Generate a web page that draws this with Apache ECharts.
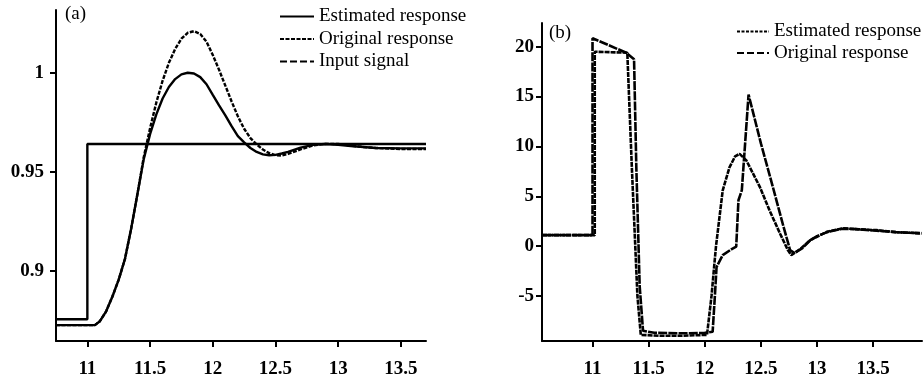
<!DOCTYPE html>
<html>
<head>
<meta charset="utf-8">
<script src="https://cdn.jsdelivr.net/npm/echarts@6/dist/echarts.min.js"></script>
<style>
html,body{margin:0;padding:0;background:#fff;}
#c{width:923px;height:381px;}
</style>
</head>
<body>
<div id="c"></div>
<script>
// ---------- Panel (a) data ----------
const aX = [10.75, 11.0, 11.06, 11.1, 11.15, 11.2, 11.25, 11.3, 11.35, 11.4, 11.45, 11.5, 11.55, 11.6, 11.65, 11.7, 11.75, 11.8, 11.85, 11.9, 11.95, 12.0, 12.05, 12.1, 12.15, 12.2, 12.25, 12.3, 12.35, 12.4, 12.45, 12.5, 12.55, 12.6, 12.7, 12.8, 12.9, 13.0, 13.1, 13.2, 13.3, 13.5, 13.7];
const aEstimated = [0.8725, 0.8725, 0.8725, 0.8745, 0.8795, 0.887, 0.8955, 0.906, 0.9215, 0.939, 0.9565, 0.969, 0.979, 0.987, 0.9928, 0.9968, 0.9992, 1.000, 0.9996, 0.9978, 0.9942, 0.9888, 0.9835, 0.9785, 0.973, 0.968, 0.9648, 0.962, 0.960, 0.9588, 0.9583, 0.9585, 0.9592, 0.960, 0.9622, 0.9636, 0.964, 0.9636, 0.963, 0.9625, 0.962, 0.9618, 0.9618];
const aOriginal = [0.8725, 0.8725, 0.8725, 0.8745, 0.8795, 0.887, 0.8955, 0.906, 0.9215, 0.939, 0.9575, 0.972, 0.985, 0.996, 1.005, 1.012, 1.0172, 1.0202, 1.021, 1.0196, 1.0157, 1.009, 1.0015, 0.9935, 0.9855, 0.978, 0.9717, 0.967, 0.9638, 0.9612, 0.9594, 0.9584, 0.9582, 0.959, 0.9613, 0.9633, 0.9641, 0.964, 0.9632, 0.9625, 0.962, 0.9615, 0.9615];
const aInputX = [10.75, 11.0, 11.0, 13.7];
const aInputY = [0.8755, 0.8755, 0.964, 0.964];
const aXTicks = [11, 11.5, 12, 12.5, 13, 13.5];
const aYTicks = [0.9, 0.95, 1];

// ---------- Panel (b) data ----------
const bEstX = [10.55, 11.02, 11.02, 11.31, 11.35, 11.40, 11.43, 11.6, 11.8, 12.02, 12.06, 12.1, 12.16, 12.22, 12.27, 12.31, 12.37, 12.49, 12.58, 12.67, 12.74, 12.77, 12.85, 12.94, 13.09, 13.23, 13.35, 13.53, 13.7, 13.93];
const bEstY = [1.1, 1.1, 19.5, 19.4, 8, -5, -8.9, -9.0, -9.0, -8.9, -5, 0, 5.6, 7.9, 9.0, 9.25, 8.6, 5.95, 3.5, 1.27, -0.4, -0.9, -0.3, 0.6, 1.44, 1.78, 1.7, 1.6, 1.4, 1.27];
const bOrigX = [10.55, 11.0, 11.0, 11.3, 11.37, 11.39, 11.42, 11.45, 11.55, 11.8, 12.0, 12.07, 12.09, 12.105, 12.16, 12.24, 12.28, 12.3, 12.33, 12.39, 12.5, 12.6, 12.7, 12.76, 12.8, 12.87, 12.94, 13.0, 13.09, 13.23, 13.35, 13.53, 13.7, 13.93];
const bOrigY = [1.1, 1.1, 20.85, 19.4, 18.75, 8, -4, -8.5, -8.7, -8.75, -8.7, -8.6, -5, -2.1, -0.9, -0.3, -0.05, 4.6, 5.6, 15.2, 10.3, 6.2, 2.0, -0.4, -0.7, -0.2, 0.6, 1.0, 1.4, 1.75, 1.7, 1.55, 1.4, 1.3];
const bXTicks = [11, 11.5, 12, 12.5, 13, 13.5];
const bYTicks = [-5, 0, 5, 10, 15, 20];

const zip = (xs, ys) => xs.map((x, i) => [x, ys[i]]);

const FONT = 'Liberation Serif';
const tickLabel = { color: '#000', fontFamily: FONT, fontSize: 19, fontWeight: 'bold' };
const axLine = { show: true, onZero: false, lineStyle: { color: '#000', width: 2 } };
const axTick = { show: true, length: 6, lineStyle: { color: '#000', width: 2 } };
const legendText = { color: '#000', fontFamily: FONT, fontSize: 19, lineHeight: 19 };

const chart = echarts.init(document.getElementById('c'), null, { renderer: 'canvas' });
chart.setOption({
  animation: false,
  backgroundColor: '#fff',
  grid: [
    { left: 56, top: 10, width: 370, height: 331 },
    { left: 542, top: 23, width: 380, height: 318 }
  ],
  xAxis: [
    { type: 'value', gridIndex: 0, min: 10.75, max: 13.7, axisLine: axLine,
      axisTick: Object.assign({}, axTick, { customValues: aXTicks }),
      axisLabel: Object.assign({}, tickLabel, { margin: 19, customValues: aXTicks }),
      splitLine: { show: false } },
    { type: 'value', gridIndex: 1, min: 10.55, max: 13.935, axisLine: axLine,
      axisTick: Object.assign({}, axTick, { customValues: bXTicks }),
      axisLabel: Object.assign({}, tickLabel, { margin: 19, customValues: bXTicks }),
      splitLine: { show: false } }
  ],
  yAxis: [
    { type: 'value', gridIndex: 0, min: 0.8645, max: 1.0317, axisLine: axLine,
      axisTick: Object.assign({}, axTick, { customValues: aYTicks }),
      axisLabel: Object.assign({}, tickLabel, { margin: 12, customValues: aYTicks }),
      splitLine: { show: false } },
    { type: 'value', gridIndex: 1, min: -9.52, max: 22.38, axisLine: axLine,
      axisTick: Object.assign({}, axTick, { customValues: bYTicks }),
      axisLabel: Object.assign({}, tickLabel, { margin: 8, customValues: bYTicks }),
      splitLine: { show: false } }
  ],
  legend: [
    { orient: 'vertical', left: 279, top: 7, padding: 0, itemWidth: 34, itemHeight: 10, itemGap: 3.5,
      itemStyle: { opacity: 0 }, textStyle: legendText,
      data: [
        { name: 'Estimated response' },
        { name: 'Original response' },
        { name: 'Input signal', lineStyle: { type: [7, 3] } }
      ] },
    { orient: 'vertical', left: 736, top: 22, padding: 0, itemWidth: 32, itemHeight: 10, itemGap: 2.6,
      itemStyle: { opacity: 0 }, textStyle: legendText,
      data: [
        { name: 'Estimated response (b)', lineStyle: { type: [3, 1.5] } },
        { name: 'Original response (b)', lineStyle: { type: [7, 3] } }
      ],
      formatter: n => n.replace(' (b)', '') }
  ],
  graphic: [
    { type: 'text', left: 65, top: 5, style: { text: '(a)', fontFamily: FONT, fontSize: 19, fill: '#000' } },
    { type: 'text', left: 549, top: 24, style: { text: '(b)', fontFamily: FONT, fontSize: 19, fill: '#000' } }
  ],
  series: [
    { name: 'Estimated response', type: 'line', xAxisIndex: 0, yAxisIndex: 0, symbol: 'none', showSymbol: false,
      itemStyle: { color: '#000' },
      lineStyle: { color: '#000', width: 2.4, type: 'solid' }, data: zip(aX, aEstimated) },
    { name: 'Original response', type: 'line', xAxisIndex: 0, yAxisIndex: 0, symbol: 'none', showSymbol: false,
      itemStyle: { color: '#000' },
      lineStyle: { color: '#000', width: 2.4, type: [4, 1.5] }, data: zip(aX, aOriginal) },
    { name: 'Input signal', type: 'line', xAxisIndex: 0, yAxisIndex: 0, symbol: 'none', showSymbol: false,
      itemStyle: { color: '#000' },
      lineStyle: { color: '#000', width: 2.4, type: 'solid' }, data: zip(aInputX, aInputY) },
    { name: 'Estimated response (b)', type: 'line', xAxisIndex: 1, yAxisIndex: 1, symbol: 'none', showSymbol: false,
      itemStyle: { color: '#000' },
      lineStyle: { color: '#000', width: 2.6, type: [5, 1] }, data: zip(bEstX, bEstY) },
    { name: 'Original response (b)', type: 'line', xAxisIndex: 1, yAxisIndex: 1, symbol: 'none', showSymbol: false,
      itemStyle: { color: '#000' },
      lineStyle: { color: '#000', width: 2.6, type: [9, 1.2] }, data: zip(bOrigX, bOrigY) }
  ]
});
</script>
</body>
</html>
